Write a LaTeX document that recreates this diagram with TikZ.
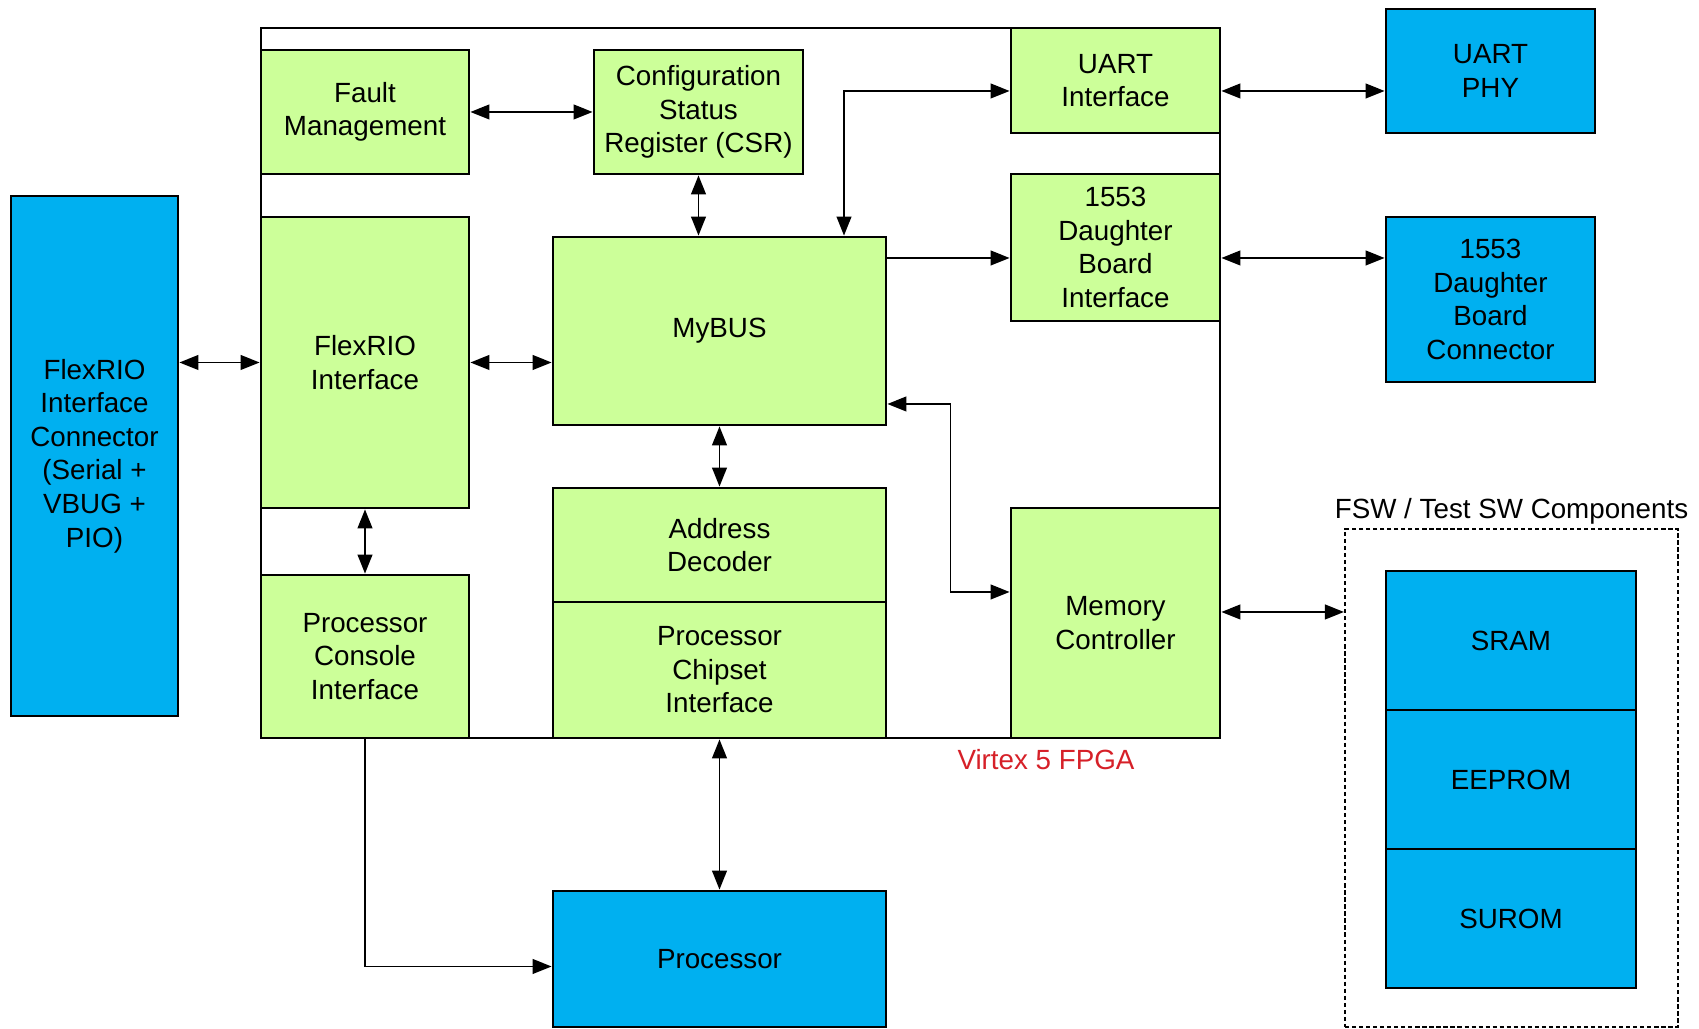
\documentclass[tikz,border=0pt]{standalone}
\usepackage{fontspec}
\setmainfont{Liberation Sans}
\usepackage{xcolor}
\usepackage{tikz}
\usetikzlibrary{arrows.meta, positioning}

\definecolor{fpgagreen}{RGB}{204,255,153}
\definecolor{partblue}{RGB}{0,176,240}
\definecolor{fpgared}{RGB}{214,32,40}

\begin{document}
\begin{tikzpicture}[
    % Styles
    block/.style={draw, rectangle, line width=0.8pt, align=center, inner sep=0pt,
                  font=\fontsize{7.9}{9.55}\selectfont},
    fpgablock/.style={block, fill=fpgagreen},
    extblock/.style={block, fill=partblue},
    frame/.style={draw, rectangle, line width=0.8pt, inner sep=0pt},
    arrow/.style={-{Triangle[length=5.4pt, width=4.2pt]}, line width=0.5pt},
    biarrow/.style={{Triangle[length=5.4pt, width=4.2pt]}-{Triangle[length=5.4pt, width=4.2pt]}, line width=0.5pt},
    lbl/.style={font=\fontsize{7.9}{9.55}\selectfont, inner sep=0pt}
  ]
    \useasboundingbox (0,0) rectangle (16.99,-10.29);

    % === FPGA outline ===
    \node[frame, minimum width=9.59cm, minimum height=7.10cm] (fpga) at (7.405,-3.83) {};
    \node[lbl, text=fpgared] (virtex) at (10.46,-7.60) {Virtex 5 FPGA};

    % === Blocks inside the FPGA ===
    \node[fpgablock, minimum width=2.08cm, minimum height=1.24cm] (fault) at (3.65,-1.12) {Fault\\Management};

    \node[fpgablock, minimum width=2.09cm, minimum height=1.24cm] (csr) at (6.985,-1.12) {Configuration\\Status\\Register (CSR)};

    \node[fpgablock, minimum width=2.09cm, minimum height=1.05cm] (uartif) at (11.155,-0.805) {UART\\Interface};

    \node[fpgablock, minimum width=2.08cm, minimum height=2.91cm] (flexif) at (3.65,-3.625) {FlexRIO\\Interface};

    \node[fpgablock, minimum width=3.33cm, minimum height=1.88cm] (mybus) at (7.195,-3.31) {MyBUS};

    \node[fpgablock, minimum width=2.09cm, minimum height=1.47cm] (dbif) at (11.155,-2.475) {1553\\Daughter\\Board\\Interface};

    \node[fpgablock, minimum width=2.08cm, minimum height=1.63cm] (console) at (3.65,-6.565) {Processor\\Console\\Interface};

    \node[fpgablock, minimum width=3.33cm, minimum height=1.14cm] (addr) at (7.195,-5.45) {Address\\Decoder};

    \node[fpgablock, minimum width=3.33cm, minimum height=1.36cm] (chipset) at (7.195,-6.70) {Processor\\Chipset\\Interface};

    \node[fpgablock, minimum width=2.09cm, minimum height=2.30cm] (memctrl) at (11.155,-6.23) {Memory\\Controller};

    % === External parts ===
    \node[extblock, minimum width=1.67cm, minimum height=5.20cm] (flexconn) at (0.945,-4.56) {FlexRIO\\Interface\\Connector\\(Serial +\\VBUG +\\PIO)};

    \node[extblock, minimum width=2.09cm, minimum height=1.24cm] (uartphy) at (14.905,-0.71) {UART\\PHY};

    \node[extblock, minimum width=2.09cm, minimum height=1.65cm] (dbconn) at (14.905,-2.995) {1553\\Daughter\\Board\\Connector};

    \node[extblock, minimum width=3.33cm, minimum height=1.36cm] (proc) at (7.195,-9.59) {Processor};

    % === FSW / Test SW components ===
    \node[draw, rectangle, line width=0.6pt, dash pattern=on 1.2pt off 0.8pt,
          minimum width=3.33cm, minimum height=4.98cm, inner sep=0pt] (fsw) at (15.115,-7.78) {};
    \node[lbl, above=0.3mm of fsw] (fswlbl) {FSW / Test SW Components};

    \node[extblock, minimum width=2.50cm, minimum height=1.39cm] (sram) at (15.11,-6.405) {SRAM};
    \node[extblock, minimum width=2.50cm, minimum height=1.39cm] (eeprom) at (15.11,-7.795) {EEPROM};
    \node[extblock, minimum width=2.50cm, minimum height=1.39cm] (surom) at (15.11,-9.185) {SUROM};

    % === Connections ===
    \draw[biarrow] (fault.east) -- (csr.west);
    \draw[biarrow] (csr.south) -- (csr.south |- mybus.north);
    \draw[biarrow] ([xshift=12.45mm]mybus.north) |- ([yshift=-1.05mm]uartif.west);
    \draw[biarrow] ([yshift=-1.05mm]uartif.east) -- ([yshift=-1.05mm]uartif.east -| uartphy.west);

    \draw[arrow] ([yshift=-1.05mm]dbif.west -| mybus.east) -- ([yshift=-1.05mm]dbif.west);
    \draw[biarrow] ([yshift=-1.05mm]dbif.east) -- ([yshift=-1.05mm]dbif.east -| dbconn.west);

    \draw[biarrow] (flexif.west -| flexconn.east) -- (flexif.west);
    \draw[biarrow] (flexif.east) -- (flexif.east -| mybus.west);
    \draw[biarrow] (flexif.south) -- (console.north);
    \draw[biarrow] (mybus.south) -- (addr.north);

    \draw[biarrow] ([yshift=-7.3mm]mybus.east) -- ++(0.63,0) |- ([yshift=3.1mm]memctrl.west);
    \draw[biarrow] ([yshift=1.1mm]memctrl.east) -- ([yshift=1.1mm]memctrl.east -| fsw.west);

    \draw[biarrow] (chipset.south) -- (proc.north);
    \draw[arrow] (console.south) |- ([yshift=-0.75mm]proc.west);

  \end{tikzpicture}
\end{document}
